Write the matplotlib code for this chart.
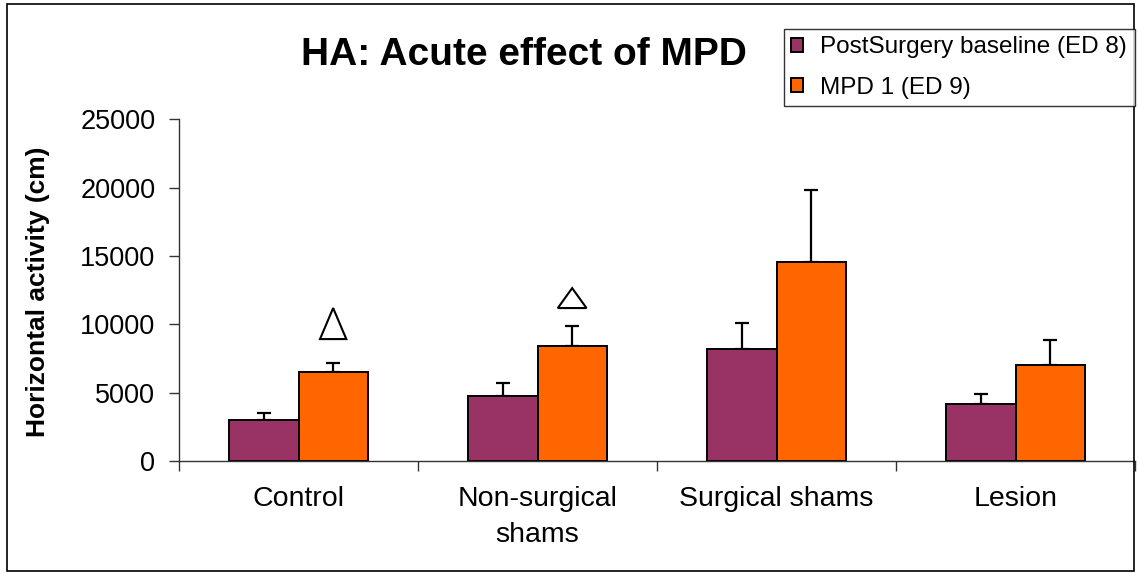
import matplotlib.pyplot as plt
from matplotlib.patches import Polygon, Rectangle

plt.rcParams['font.family'] = ['Liberation Sans', 'DejaVu Sans']

# data
groups = ["Control", "Non-surgical\nshams", "Surgical shams", "Lesion"]
baseline = [3000, 4780, 8170, 4190]
baseline_err = [540, 950, 1900, 710]
mpd = [6540, 8410, 14530, 7050]
mpd_err = [650, 1490, 5290, 1800]
series_names = ["PostSurgery baseline (ED 8)", "MPD 1 (ED 9)"]
yticks = [0, 5000, 10000, 15000, 20000, 25000]
# significance triangles: group index, gap above error bar, width, height
sig_groups = [0, 1]
sig_gap = [1730, 1290]
sig_w = [0.11, 0.12]
sig_h = [2270, 1460]

purple = "#993366"
orange = "#FF6600"
w = 0.29

fig = plt.figure(figsize=(11.38, 5.73), dpi=100)
ax = fig.add_axes([179/1138, 1 - 461/573, 956/1138, 341.7/573])

x = list(range(len(groups)))
xb = [i - w/2 for i in x]
xo = [i + w/2 for i in x]
b1 = ax.bar(xb, baseline, w, color=purple, edgecolor="black", linewidth=1.4,
            label=series_names[0], zorder=2)
b2 = ax.bar(xo, mpd, w, color=orange, edgecolor="black", linewidth=1.4,
            label=series_names[1], zorder=2)
ax.errorbar(xb, baseline, yerr=[[0]*len(x), baseline_err], fmt="none",
            ecolor="black", elinewidth=1.6, capsize=5, capthick=1.6, zorder=1)
ax.errorbar(xo, mpd, yerr=[[0]*len(x), mpd_err], fmt="none",
            ecolor="black", elinewidth=1.6, capsize=5, capthick=1.6, zorder=1)

for k, g in enumerate(sig_groups):
    cx = xo[g]
    base = mpd[g] + mpd_err[g] + sig_gap[k]
    tri = Polygon([(cx - sig_w[k]/2, base), (cx + sig_w[k]/2, base),
                   (cx, base + sig_h[k])], closed=True, fill=False,
                  edgecolor="black", linewidth=1.5, clip_on=False)
    ax.add_patch(tri)

ax.set_xlim(-0.5, len(groups) - 0.5)
ax.set_ylim(0, 25000)
ax.set_yticks(yticks)
ax.set_yticklabels([str(v) for v in yticks])
ax.set_xticks([i - 0.5 for i in range(len(groups) + 1)])
ax.set_xticklabels([])
ax.set_xticks(x, minor=True)
ax.set_xticklabels(groups, minor=True)
for lbl in ax.get_xticklabels(minor=True):
    lbl.set_linespacing(1.5)
ax.tick_params(axis="x", which="minor", length=0, pad=18, labelsize=20.5)
ax.tick_params(axis="x", which="major", length=7, width=1, color="#333333")
ax.tick_params(axis="y", length=7, width=1, color="#333333", pad=10,
               labelsize=19.5)

for s in ["top", "right"]:
    ax.spines[s].set_visible(False)
for s in ["left", "bottom"]:
    ax.spines[s].set_color("#333333")
    ax.spines[s].set_linewidth(1)

ax.set_ylabel("Horizontal activity (cm)", fontsize=19, fontweight="bold")
ax.yaxis.set_label_coords((50 - 179)/956, 0.495)

fig.text(524/1138, 1 - 55/573, "HA: Acute effect of MPD", fontsize=28,
         fontweight="bold", ha="center", va="center")

leg = fig.legend(handles=[b1, b2], loc="upper left",
                 bbox_to_anchor=(784/1138, 1 - 29/573),
                 bbox_transform=fig.transFigure, fontsize=17.5,
                 frameon=True, fancybox=False, edgecolor="black",
                 borderaxespad=0, borderpad=0.3, labelspacing=0.75,
                 handlelength=0.5, handleheight=0.5, handletextpad=0.7)
leg.get_frame().set_linewidth(1)

fig.patches.append(Rectangle((7/1138, 1 - 571/573), 1127/1138, 567/573,
                             transform=fig.transFigure, fill=False,
                             edgecolor="black", linewidth=1.2))

fig.savefig("out.png", dpi=100)
